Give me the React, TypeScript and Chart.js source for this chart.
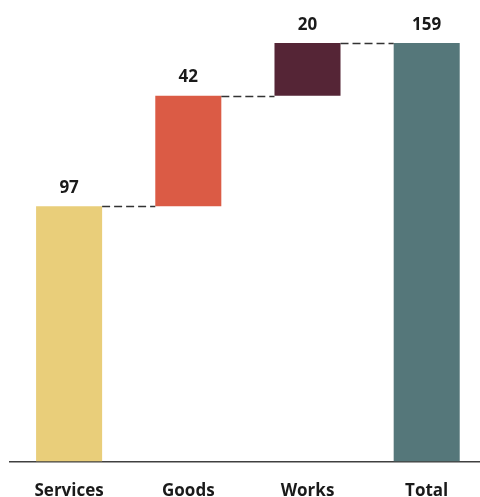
import React, { useEffect, useRef } from "react";
import { Chart, registerables } from "chart.js";

Chart.register(...registerables);

const categories = ["Services", "Goods", "Works", "Total"];
const values = [97, 42, 20, 159];
const isTotal = [false, false, false, true];
const colors = ["#E9CE7A", "#DB5B45", "#552536", "#55777A"];

export default function App() {
  const ref = useRef<HTMLCanvasElement | null>(null);

  useEffect(() => {
    if (!ref.current) return;
    let run = 0;
    const floating = values.map((v, i) => {
      if (isTotal[i]) return [0, v];
      const s = run;
      run += v;
      return [s, run];
    });

    const labelsPlugin = {
      id: "wfLabels",
      afterDatasetsDraw(chart: any) {
        const ctx = chart.ctx;
        const meta = chart.getDatasetMeta(0);
        const y = chart.scales.y;
        ctx.save();
        // connectors
        ctx.strokeStyle = "#333333";
        ctx.lineWidth = 1.3;
        ctx.setLineDash([8, 4]);
        for (let i = 0; i < meta.data.length - 1; i++) {
          const a: any = meta.data[i];
          const b: any = meta.data[i + 1];
          const level = floating[i][1];
          const py = Math.round(y.getPixelForValue(level)) + 0.5;
          ctx.beginPath();
          ctx.moveTo(a.x + a.width / 2, py);
          ctx.lineTo(b.x - b.width / 2, py);
          ctx.stroke();
        }
        ctx.setLineDash([]);
        // labels
        ctx.fillStyle = "#1a1a1a";
        ctx.font = "bold 17px 'Open Sans', sans-serif";
        ctx.textAlign = "center";
        ctx.textBaseline = "middle";
        meta.data.forEach((el: any, i: number) => {
          const top = y.getPixelForValue(floating[i][1]);
          ctx.fillText(String(values[i]), el.x, top - 18);
        });
        ctx.restore();
      },
    };

    const chart = new Chart(ref.current, {
      type: "bar",
      data: {
        labels: categories,
        datasets: [
          {
            data: floating as any,
            backgroundColor: colors,
            borderWidth: 0,
            borderSkipped: false,
            categoryPercentage: 1,
            barPercentage: 0.554,
          },
        ],
      },
      options: {
        responsive: false,
        animation: false,
        layout: { padding: { left: 9.5, right: 3.7, top: 43, bottom: 0 } },
        plugins: { legend: { display: false }, tooltip: { enabled: false } },
        scales: {
          x: {
            grid: { display: false, drawTicks: false },
            border: { display: true, color: "#404040", width: 1.5 },
            ticks: {
              color: "#1a1a1a",
              padding: 19,
              maxRotation: 0,
              font: { family: "'Open Sans', sans-serif", size: 17, weight: "bold" },
            },
          },
          y: {
            display: false,
            min: 0,
            max: 159,
          },
        },
      },
      plugins: [labelsPlugin],
    });
    return () => chart.destroy();
  }, []);

  return (
    <div
      style={{
        position: "fixed",
        left: 0,
        top: 0,
        width: 480,
        height: 497,
        overflow: "hidden",
        background: "#fff",
      }}
    >
      <canvas ref={ref} width={490} height={520} style={{ display: "block" }} />
    </div>
  );
}
